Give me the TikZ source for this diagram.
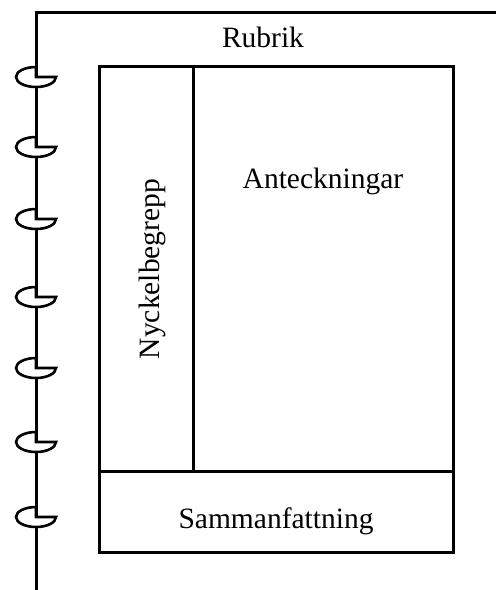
\documentclass[tikz,border=0pt]{standalone}
\usepackage{fontspec}
\setmainfont{Liberation Serif}
\begin{document}
\begin{tikzpicture}[x=1pt,y=-1pt,
  edge/.style={line width=3pt},
  ring/.style={line width=2.6pt, fill=white, line join=miter},
  label/.style={font=\fontsize{29.5}{34}\selectfont, inner sep=0pt, anchor=base}]
  \useasboundingbox (0,0) rectangle (496,590);
  % spine and top edge of the page
  \coordinate (spinetop) at (36,12);
  \coordinate (spinebot) at (36,592);
  \coordinate (topright) at (498,12);
  \draw[edge] (spinebot) -- (spinetop) -- (topright);
  % spiral rings: ellipse open in its upper right quarter
  \foreach \yc in {77,147,219,297,368,442,517} {
    \draw[ring] (36,\yc-10) arc[start angle=270, end angle=0, x radius=20, y radius=10]
      -- (36,\yc) -- cycle;
  }
  % Cornell layout
  \draw[edge] (99,66) rectangle (453,552);
  \draw[edge] (193,66) -- (193,471);
  \draw[edge] (99,471) -- (453,471);
  % labels
  \node[label] (rubrik) at (263,47) {Rubrik};
  \node[label] (notes) at (323,188) {Anteckningar};
  \node[label, rotate=90] (cue) at (159,269) {Nyckelbegrepp};
  \node[label] (summary) at (276,528) {Sammanfattning};
\end{tikzpicture}
\end{document}
